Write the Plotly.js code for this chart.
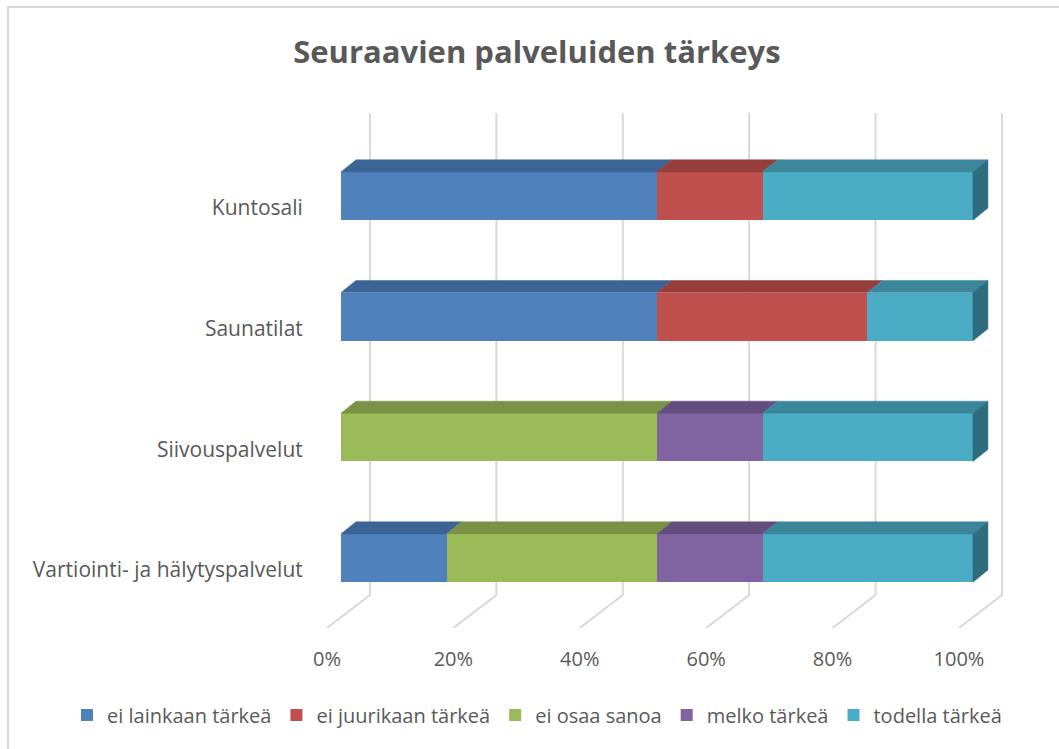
<!DOCTYPE html>
<html>
<head>
<meta charset="utf-8">
<script src="https://cdn.plot.ly/plotly-3.0.1.min.js"></script>
<style>
  html, body { margin: 0; padding: 0; background: #ffffff; }
  #wrap { position: relative; width: 1059px; height: 749px; overflow: hidden; }
  #chart { width: 1059px; height: 749px; }
  #frame { position: absolute; left: 7px; top: 6px; width: 1100px; height: 800px;
           border: 2px solid #d9d9d9; pointer-events: none; }
</style>
</head>
<body>
<div id="wrap">
  <div id="chart"></div>
  <div id="frame"></div>
</div>
<script>
// ---- data ----
const categories = ["Kuntosali", "Saunatilat", "Siivouspalvelut", "Vartiointi- ja hälytyspalvelut"];
const seriesNames = ["ei lainkaan tärkeä", "ei juurikaan tärkeä", "ei osaa sanoa", "melko tärkeä", "todella tärkeä"];
const eiLainkaan  = [50, 50, 0, 16.7];
const eiJuurikaan = [16.7, 33.3, 0, 0];
const eiOsaa      = [0, 0, 50, 33.3];
const melko       = [0, 0, 16.7, 16.7];
const todella     = [33.3, 16.7, 33.3, 33.3];
const tickValues  = [0, 20, 40, 60, 80, 100];
const tickLabels  = ["0%", "20%", "40%", "60%", "80%", "100%"];

// ---- style ----
const seriesValues = [eiLainkaan, eiJuurikaan, eiOsaa, melko, todella];
const frontColors = ["#4f81bd", "#c0504d", "#9bbb59", "#8064a2", "#4bacc6"];
const topColors   = ["#3c6494", "#963e3c", "#799245", "#644e7e", "#3b869b"];
const sideColors  = ["#2f5077", "#783130", "#5f7336", "#4f3e64", "#2f6c7d"];
const FONT = "Open Sans, Noto Sans, sans-serif";
const TXT = "#595959";

const BAR_W = 0.4;      // bar thickness in category units
const DX = 2.37;        // depth offset (x units)
const DY = 0.1;         // depth offset (category units)
const BACK_X = 4.59;    // back wall offset
const FRONT_X = -2.22;  // floor front offset
const Y_TOP = -0.688, Y_FLOOR_BACK = 3.307, Y_FLOOR_FRONT = 3.58;
const X_RANGE = [-3.32, 112.03];
const Y_RANGE = [Y_FLOOR_FRONT, Y_TOP];
const yPos = categories.map((c, i) => i);

const traces = [];
// front faces (bars)
seriesValues.forEach((vals, s) => {
  traces.push({
    type: "bar", orientation: "h", name: seriesNames[s],
    x: vals, y: yPos, width: BAR_W,
    marker: { color: frontColors[s], line: { width: 0 } },
    hoverinfo: "x+name", xaxis: "x", yaxis: "y"
  });
});
// top faces and side faces
categories.forEach((c, i) => {
  let start = 0, lastS = -1;
  seriesValues.forEach((vals, s) => {
    const v = vals[i];
    if (v > 0) {
      const a = start, b = start + v;
      const yf = i - BAR_W / 2, yb = yf - DY;
      traces.push({
        type: "scatter", mode: "lines", fill: "toself",
        x: [a, b, b + DX, a + DX, a], y: [yf, yf, yb, yb, yf],
        fillcolor: topColors[s], line: { color: topColors[s], width: 0.5 },
        showlegend: false, hoverinfo: "skip", xaxis: "x", yaxis: "y"
      });
      lastS = s;
    }
    start += v;
  });
  const total = start;
  if (lastS >= 0) {
    const yt = i - BAR_W / 2, yb = i + BAR_W / 2;
    traces.push({
      type: "scatter", mode: "lines", fill: "toself",
      x: [total, total + DX, total + DX, total, total],
      y: [yt, yt - DY, yb - DY, yb, yt],
      fillcolor: sideColors[lastS], line: { color: sideColors[lastS], width: 0.5 },
      showlegend: false, hoverinfo: "skip", xaxis: "x", yaxis: "y"
    });
  }
});
// invisible anchor for label axes
traces.push({ type: "scatter", mode: "markers", x: [tickValues[0]], y: [yPos[0]], xaxis: "x2", yaxis: "y2",
  marker: { opacity: 0 }, showlegend: false, hoverinfo: "skip" });

// gridlines (back wall + floor) as shapes below traces
const shapes = tickValues.map(v => ({
  type: "path", xref: "x", yref: "y", layer: "below",
  path: `M ${v + BACK_X},${Y_TOP} L ${v + BACK_X},${Y_FLOOR_BACK} L ${v + FRONT_X},${Y_FLOOR_FRONT}`,
  line: { color: "#d9d9d9", width: 2 }
}));

const layout = {
  width: 1059, height: 749,
  paper_bgcolor: "#ffffff", plot_bgcolor: "rgba(0,0,0,0)",
  margin: { l: 320, r: 10, t: 113, b: 121 },
  font: { family: FONT, color: TXT, size: 20 },
  title: { text: "Seuraavien palveluiden tärkeys", x: 0.507, xref: "container", y: 0.93, yref: "container",
           yanchor: "middle", xanchor: "center", font: { family: FONT, size: 31, color: TXT, weight: 700 } },
  barmode: "stack",
  showlegend: true,
  legend: { orientation: "h", x: (67 - 320) / 729, xanchor: "left", y: -0.169, yanchor: "middle",
            font: { family: FONT, size: 20, color: TXT }, traceorder: "normal", itemwidth: 30 },
  xaxis: { range: X_RANGE, showgrid: false, zeroline: false, showticklabels: false, fixedrange: true },
  yaxis: { range: Y_RANGE, showgrid: false, zeroline: false, showticklabels: false, fixedrange: true },
  xaxis2: { overlaying: "x", anchor: "y", side: "bottom",
            range: [X_RANGE[0] - FRONT_X, X_RANGE[1] - FRONT_X],
            tickmode: "array", tickvals: tickValues, ticktext: tickLabels,
            showgrid: false, zeroline: false, ticks: "outside", ticklen: 13, tickcolor: "rgba(0,0,0,0)",
            tickfont: { family: FONT, size: 20, color: TXT } },
  yaxis2: { overlaying: "y", anchor: "x", side: "left",
            range: [Y_RANGE[0] - DY, Y_RANGE[1] - DY],
            tickmode: "array", tickvals: yPos, ticktext: categories,
            showgrid: false, zeroline: false, ticks: "outside", ticklen: 12, tickcolor: "rgba(0,0,0,0)",
            tickfont: { family: FONT, size: 21, color: TXT } },
  shapes: shapes
};

Plotly.newPlot("chart", traces, layout, { displayModeBar: false, staticPlot: true });
</script>
</body>
</html>
